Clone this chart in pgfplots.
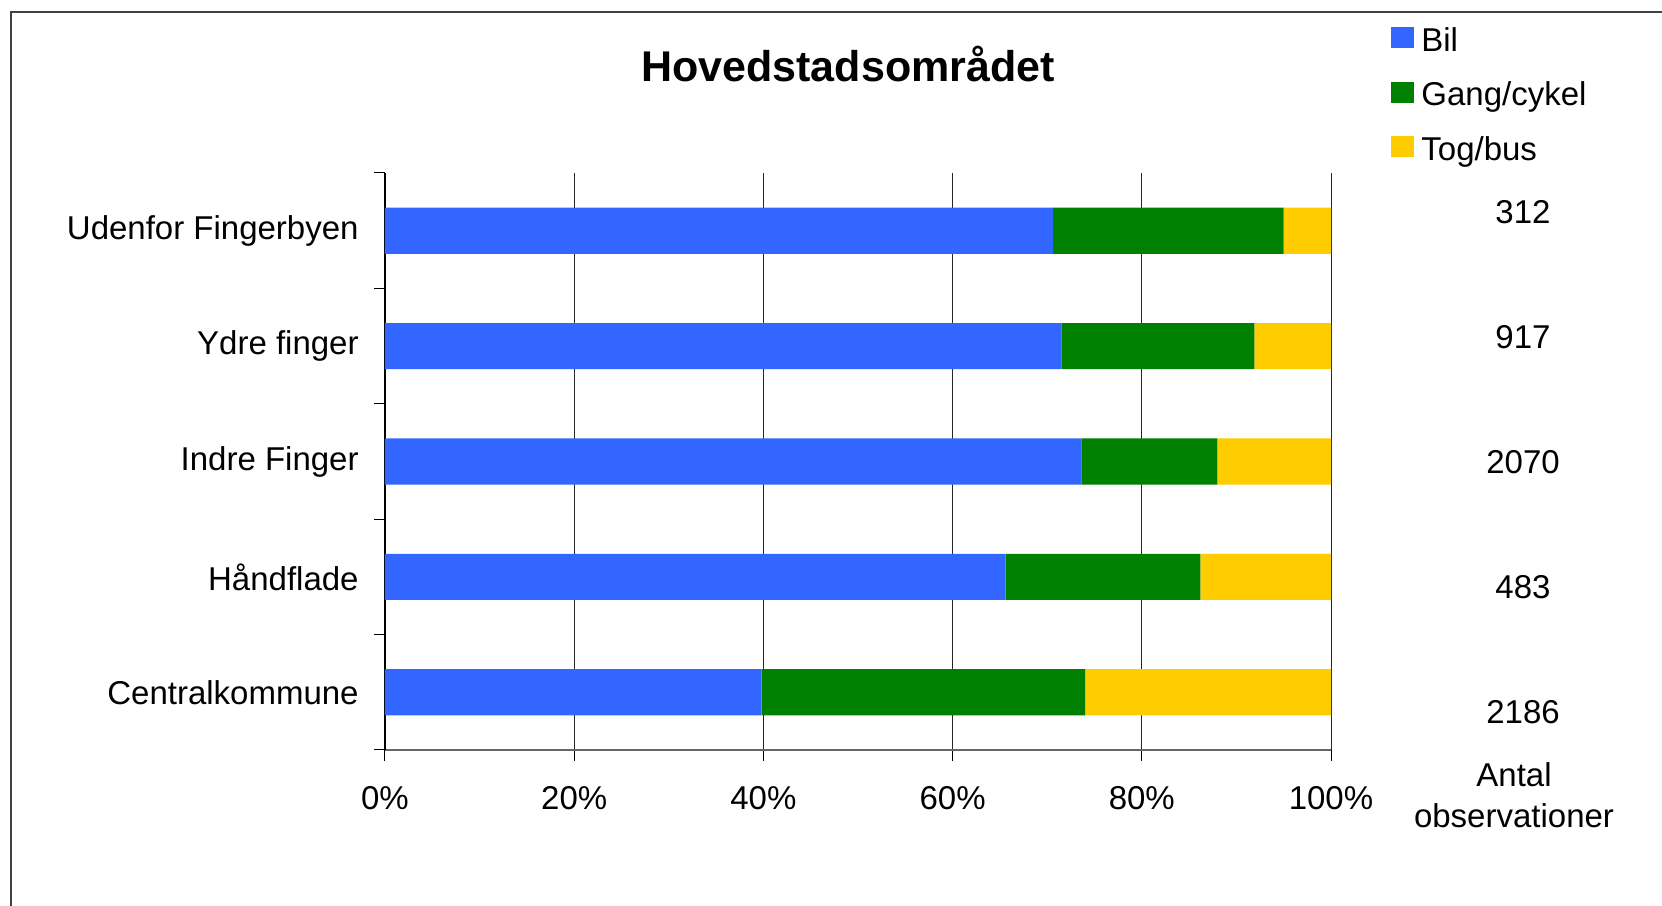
\documentclass[border=0pt]{standalone}
\usepackage{pgfplots}
\pgfplotsset{compat=1.18}
\usepackage{fontspec}
\setmainfont{Liberation Sans}
\definecolor{cBil}{HTML}{3366FF}
\definecolor{cGang}{HTML}{008000}
\definecolor{cTog}{HTML}{FFCC00}
\pgfplotsset{sqlegend/.style={legend image code/.code={\fill[##1] (0pt,-2.6pt) rectangle (11.5pt,7.9pt);}}}
\begin{document}
\fontsize{16.5}{19.8}\selectfont
\begin{tikzpicture}
\path[use as bounding box] (0,0) rectangle (831pt,453pt);
\fill[white] (0,0) rectangle (831pt,453pt);
\draw[line width=1pt, black!75] (5.3pt,0) -- (5.3pt,447pt) -- (831pt,447pt);
\begin{axis}[
  at={(192.5pt,78pt)}, anchor=south west,
  scale only axis, width=473pt, height=288.5pt,
  xbar stacked, bar width=0.4,
  xmin=0, xmax=100, ymin=-0.5, ymax=4.5,
  axis x line*=bottom, axis y line*=left,
  x axis line style={-, line width=1.2pt, black!60},
  y axis line style={-, line width=0.6pt, black},
  xmajorgrids, grid style={black!85, line width=0.5pt},
  xtick={0,20,40,60,80,100},
  xticklabels={0\%,20\%,40\%,60\%,80\%,100\%},
  xticklabel style={yshift=-6.9pt},
  ytick={-0.5,0.5,1.5,2.5,3.5,4.5},
  y tick label as interval,
  yticklabels={Centralkommune,Håndflade,Indre Finger,Ydre finger,Udenfor Fingerbyen},
  yticklabel style={xshift=-2pt},
  tick align=outside, tick pos=left,
  major tick length=5.5pt,
  tick style={black, line width=0.5pt},
  legend style={draw=none, fill=none, at={(1.0634,1.2536)}, anchor=north west,
    inner sep=0pt, row sep=11.3pt, column sep=3.5pt,
    nodes={inner sep=0pt, text height=12pt, text depth=4pt}},
  legend cell align=left,
]
\addplot[fill=cBil, draw=none, sqlegend] coordinates {(39.8,0) (65.6,1) (73.6,2) (71.5,3) (70.6,4)};
\addplot[fill=cGang, draw=none, sqlegend] coordinates {(34.2,0) (20.6,1) (14.4,2) (20.4,3) (24.4,4)};
\addplot[fill=cTog, draw=none, sqlegend] coordinates {(26.0,0) (13.8,1) (12.0,2) (8.1,3) (5.0,4)};
\legend{Bil,Gang/cykel,Tog/bus}
\end{axis}
\node[font=\fontsize{21.5}{25}\selectfont\bfseries] at (424pt,421pt) {Hovedstadsområdet};
\node at (761.5pt,347pt) {312};
\node at (761.5pt,284.5pt) {917};
\node at (761.5pt,222pt) {2070};
\node at (761.5pt,159.5pt) {483};
\node at (761.5pt,97pt) {2186};
\node[align=center, font=\fontsize{16.5}{20.5}\selectfont] at (757pt,55.25pt) {Antal\\observationer};
\end{tikzpicture}
\end{document}
